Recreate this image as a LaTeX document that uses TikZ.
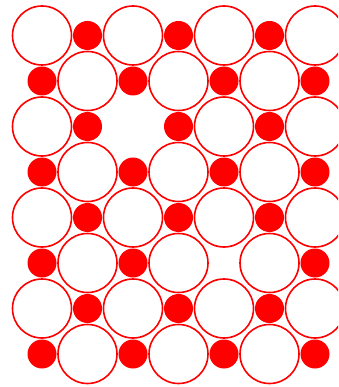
\documentclass[tikz,border=0pt]{standalone}
\begin{document}
\begin{tikzpicture}[x=1pt,y=-1pt,
  bigcirc/.style={draw=red,fill=white,line width=1.6pt},
  smallcirc/.style={fill=red}]
\useasboundingbox (0,0) rectangle (338,387);
\clip (0,0) rectangle (338,387);
\foreach \i in {0,...,7}{
  \foreach \j in {0,...,6}{
    \pgfmathsetmacro{\xx}{42+45.5*\j}
    \pgfmathsetmacro{\yy}{35.5+45.5*\i}
    \pgfmathtruncatemacro{\myparity}{mod(\i+\j,2)}
    \pgfmathtruncatemacro{\skipA}{(\i==2)&&(\j==2)}
    \pgfmathtruncatemacro{\skipB}{(\i==5)&&(\j==4)}
    \ifnum\skipA=0 \ifnum\skipB=0
      \ifnum\myparity=0
        \draw[bigcirc] (\xx,\yy) circle (29.5);
      \else
        \fill[smallcirc] (\xx,\yy) circle (14.5);
      \fi
    \fi\fi
  }
}
\end{tikzpicture}
\end{document}
